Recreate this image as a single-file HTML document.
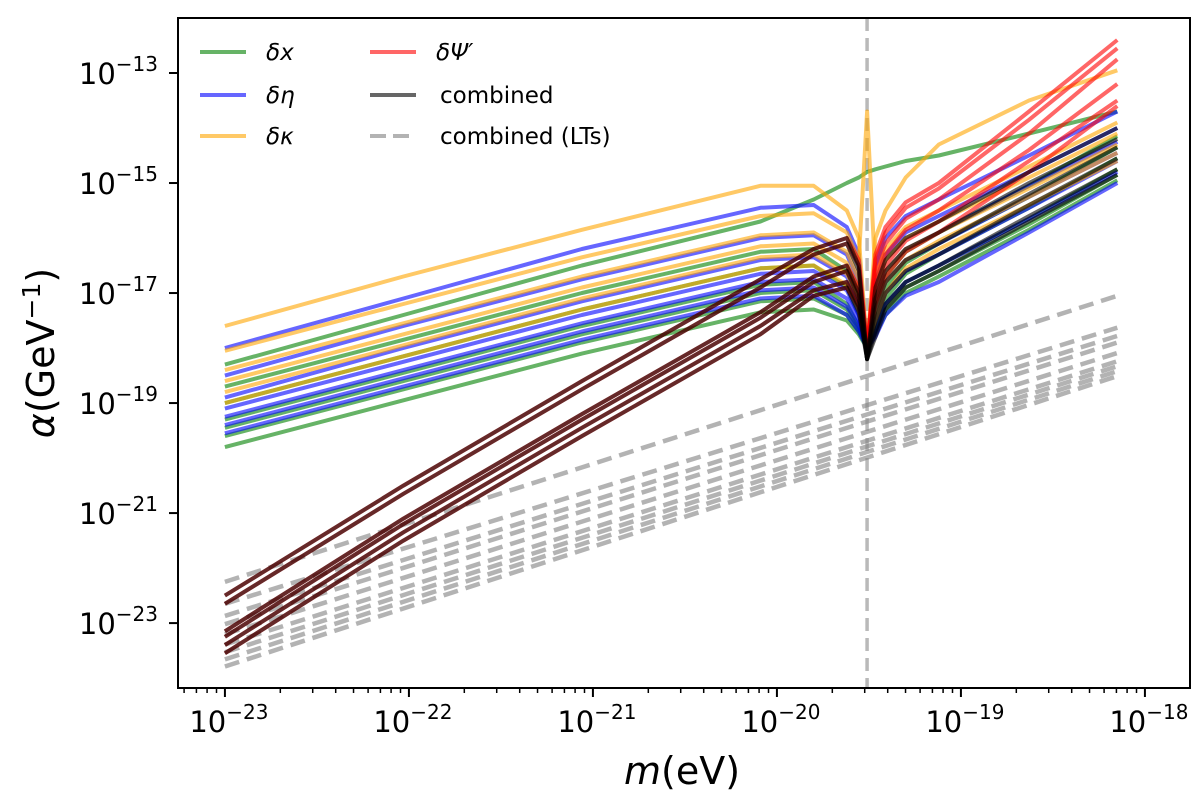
<!DOCTYPE html>
<html><head><meta charset="utf-8"><style>
body{margin:0;background:#fff;}
svg{display:block;font-family:"DejaVu Sans","Liberation Sans",sans-serif;}
</style></head><body>
<svg id="chart" width="1200" height="797" viewBox="0 0 1200 797" xmlns="http://www.w3.org/2000/svg">
<g id="plot"></g>
<g id="axes"></g>
<g id="legend"></g>
<text x="682" y="784" font-size="38" text-anchor="middle"><tspan font-style="italic">m</tspan>(eV)</text>
<text transform="translate(54,353) rotate(-90)" font-size="38" text-anchor="middle"><tspan font-style="italic">α</tspan>(GeV<tspan baseline-shift="super" font-size="25">−1</tspan>)</text>
</svg>
<script>
// data (log10 values)
const xsLog = [-23,-22.03,-21.06,-20.09,-19.80,-19.62,-19.555,-19.51,-19.465,-19.41,-19.3,-19.12,-18.63,-18.15];
const resonanceLog = -19.51;
const greenSeries = [
[-18.3,-17.4,-16.5,-15.7,-15.3,-15.0,-14.9,-14.8,-14.75,-14.7,-14.6,-14.5,-14.1,-13.7],
[-18.7,-17.85,-17.0,-16.25,-16.2,-16.6,-17.1,-18.0,-17.2,-16.7,-16.25,-15.9,-15.05,-14.15],
[-19.0,-18.15,-17.3,-16.55,-16.5,-16.9,-17.4,-18.0,-17.4,-16.9,-16.45,-16.1,-15.25,-14.35],
[-19.3,-18.45,-17.6,-16.85,-16.8,-17.2,-17.6,-18.0,-17.6,-17.1,-16.65,-16.3,-15.45,-14.55],
[-19.45,-18.6,-17.75,-17.0,-16.95,-17.3,-17.65,-18.0,-17.65,-17.2,-16.8,-16.5,-15.65,-14.75],
[-19.6,-18.75,-17.9,-17.15,-17.1,-17.4,-17.7,-18.0,-17.7,-17.3,-16.9,-16.6,-15.75,-14.85],
[-19.8,-18.95,-18.1,-17.35,-17.3,-17.5,-17.75,-18.0,-17.75,-17.4,-17.0,-16.7,-15.85,-14.95]];
const blueSeries = [
[-18.0,-17.1,-16.2,-15.45,-15.4,-15.8,-16.3,-18.0,-16.5,-16.0,-15.6,-15.3,-14.5,-13.7],
[-18.5,-17.6,-16.75,-16.0,-15.95,-16.3,-16.8,-18.0,-16.8,-16.3,-15.9,-15.6,-14.8,-14.0],
[-18.9,-18.0,-17.15,-16.4,-16.35,-16.7,-17.2,-18.0,-17.1,-16.6,-16.2,-15.9,-15.05,-14.25],
[-19.1,-18.25,-17.4,-16.65,-16.6,-16.95,-17.4,-18.0,-17.3,-16.8,-16.4,-16.1,-15.25,-14.45],
[-19.25,-18.4,-17.55,-16.8,-16.75,-17.1,-17.5,-18.0,-17.5,-17.0,-16.6,-16.3,-15.45,-14.6],
[-19.4,-18.55,-17.7,-16.95,-16.9,-17.25,-17.6,-18.0,-17.7,-17.2,-16.8,-16.5,-15.65,-14.8],
[-19.55,-18.7,-17.85,-17.1,-17.05,-17.4,-17.7,-18.0,-17.8,-17.4,-17.05,-16.8,-15.9,-15.0]];
const orangeSeries = [
[-17.6,-16.7,-15.85,-15.05,-15.05,-15.5,-16.0,-18.0,-16.0,-15.5,-14.9,-14.3,-13.5,-12.95],
[-18.05,-17.2,-16.35,-15.6,-15.55,-15.9,-16.4,-13.7,-16.7,-16.2,-15.8,-15.5,-14.7,-13.9],
[-18.4,-17.55,-16.7,-15.95,-15.9,-16.25,-16.75,-18.0,-16.9,-16.4,-16.0,-15.7,-14.9,-14.1],
[-18.6,-17.75,-16.9,-16.15,-16.1,-16.45,-16.95,-18.0,-17.1,-16.6,-16.2,-15.9,-15.1,-14.3],
[-18.8,-17.95,-17.1,-16.35,-16.3,-16.65,-17.1,-18.0,-17.3,-16.8,-16.4,-16.05,-15.25,-14.45],
[-19.0,-18.15,-17.3,-16.55,-16.5,-16.85,-17.3,-18.0,-17.5,-17.0,-16.55,-16.2,-15.4,-14.6]];
const redSeries = [
[-22.5,-20.5,-18.6,-16.75,-16.2,-16.0,-16.4,-18.0,-16.3,-15.8,-15.35,-15.0,-13.7,-12.4],
[-22.65,-20.65,-18.75,-16.9,-16.3,-16.1,-16.5,-18.0,-16.4,-15.9,-15.45,-15.1,-13.85,-12.55],
[-23.15,-21.1,-19.2,-17.35,-16.7,-16.5,-16.9,-18.0,-16.6,-16.1,-15.65,-15.3,-14.1,-12.75],
[-23.25,-21.2,-19.3,-17.45,-16.8,-16.6,-17.0,-18.0,-16.8,-16.3,-15.85,-15.5,-14.4,-13.2],
[-23.4,-21.35,-19.45,-17.6,-16.95,-16.8,-17.15,-18.0,-17.0,-16.5,-16.05,-15.7,-14.6,-13.5],
[-23.55,-21.5,-19.6,-17.75,-17.05,-16.9,-17.25,-18.0,-17.2,-16.7,-16.25,-15.9,-14.8,-13.6]];
const combinedSeries = [
[-22.5,-20.5,-18.6,-16.75,-16.2,-16.0,-16.5,-18.2,-16.9,-16.4,-16.0,-15.7,-14.8,-14.0],
[-23.15,-21.1,-19.2,-17.35,-16.7,-16.5,-17.0,-18.2,-17.1,-16.6,-16.2,-15.9,-15.0,-14.2],
[-23.25,-21.2,-19.3,-17.45,-16.8,-16.6,-17.1,-18.2,-17.3,-16.8,-16.4,-16.1,-15.2,-14.35],
[-23.4,-21.35,-19.45,-17.6,-16.95,-16.8,-17.25,-18.2,-17.5,-17.0,-16.6,-16.3,-15.4,-14.55],
[-23.55,-21.5,-19.6,-17.75,-17.05,-16.9,-17.35,-18.2,-17.7,-17.2,-16.8,-16.5,-15.6,-14.75],
[-22.65,-20.65,-18.75,-16.9,-16.3,-16.1,-16.6,-18.2,-17.8,-17.3,-16.9,-16.6,-15.7,-14.85]];
const ltsX = [-23,-18.15];
const ltsStart = [-22.25,-22.65,-22.87,-23.02,-23.2,-23.39,-23.53,-23.66,-23.79];
const ltsEnd = [-17.05,-17.63,-17.78,-17.9,-18.09,-18.24,-18.33,-18.42,-18.51];
const xTickLogs = [-23,-22,-21,-20,-19,-18];
const yTickLogs = [-13,-15,-17,-19,-21,-23];

const NS="http://www.w3.org/2000/svg";
const L=178,R=1190,T=18,B=688;
const xMin=-23.255,xMax=-17.755,yMax=-12.0,yMin=-24.18;
const xs=v=>L+(v-xMin)/(xMax-xMin)*(R-L);
const ys=v=>T+(yMax-v)/(yMax-yMin)*(B-T);
function mk(tag,parent){const e=document.createElementNS(NS,tag);parent.appendChild(e);return e;}
const plot=document.getElementById('plot');
const axes=document.getElementById('axes');
const legend=document.getElementById('legend');

const vl=mk('line',plot);


vl.setAttribute('x1',xs(resonanceLog));vl.setAttribute('x2',xs(resonanceLog));
vl.setAttribute('y1',T);vl.setAttribute('y2',B);
vl.setAttribute('stroke','rgba(128,128,128,0.55)');vl.setAttribute('stroke-width','3.5');vl.setAttribute('stroke-dasharray','13,7');

for(let i=0;i<ltsStart.length;i++){
 const l=mk('line',plot);
 
 
 l.setAttribute('x1',xs(ltsX[0]));l.setAttribute('y1',ys(ltsStart[i]));
 l.setAttribute('x2',xs(ltsX[1]));l.setAttribute('y2',ys(ltsEnd[i]));
 l.setAttribute('stroke','rgba(128,128,128,0.6)');l.setAttribute('stroke-width','4.5');l.setAttribute('stroke-dasharray','15,8');
}
function drawSet(set,color,name){
 set.forEach(arr=>{
  const p=mk('polyline',plot);
  
  
  p.setAttribute('points',arr.map((v,i)=>xs(xsLog[i]).toFixed(1)+','+ys(v).toFixed(1)).join(' '));
  p.setAttribute('fill','none');p.setAttribute('stroke',color);p.setAttribute('stroke-width','4');
  p.setAttribute('stroke-linejoin','round');
 });
}
drawSet(greenSeries,'rgba(0,128,0,0.6)','delta-x-line');
drawSet(blueSeries,'rgba(0,0,255,0.6)','delta-eta-line');
drawSet(orangeSeries,'rgba(255,165,0,0.6)','delta-kappa-line');
drawSet(redSeries,'rgba(255,0,0,0.6)','delta-psi-line');
drawSet(combinedSeries,'rgba(0,0,0,0.6)','combined-line');

const fr=mk('rect',axes);


fr.setAttribute('x',L);fr.setAttribute('y',T);fr.setAttribute('width',R-L);fr.setAttribute('height',B-T);
fr.setAttribute('fill','none');fr.setAttribute('stroke','#000');fr.setAttribute('stroke-width','2');
for(let d=-24;d<=-18;d++){
 for(let k=1;k<10;k++){
  const v=d+Math.log10(k); if(v<xMin||v>xMax) continue;
  const x=xs(v);const t=mk('line',axes);
  
  
  t.setAttribute('x1',x);t.setAttribute('x2',x);t.setAttribute('y1',B);t.setAttribute('y2',B+(k===1?9:5));
  t.setAttribute('stroke','#000');t.setAttribute('stroke-width',k===1?'2':'1.5');
 }
}
xTickLogs.forEach(v=>{
 const t=mk('text',axes);
 
 
 t.setAttribute('x',xs(v)+4);t.setAttribute('y',732);t.setAttribute('font-size','29');t.setAttribute('text-anchor','middle');
 t.innerHTML='10<tspan dy="-13" font-size="20">−'+(-v)+'</tspan>';
});
yTickLogs.forEach(v=>{
 const y=ys(v);const tk=mk('line',axes);
 
 
 tk.setAttribute('x1',L-9);tk.setAttribute('x2',L);tk.setAttribute('y1',y);tk.setAttribute('y2',y);
 tk.setAttribute('stroke','#000');tk.setAttribute('stroke-width','2');
 const t=mk('text',axes);
 
 
 t.setAttribute('x',158);t.setAttribute('y',y+11);t.setAttribute('font-size','29');t.setAttribute('text-anchor','end');
 t.innerHTML='10<tspan dy="-13" font-size="20">−'+(-v)+'</tspan>';
});
const entries=[
 [200,52,'rgba(0,128,0,0.6)','δx',false,true],
 [200,95,'rgba(0,0,255,0.6)','δη',false,true],
 [200,136,'rgba(255,165,0,0.6)','δκ',false,true],
 [370,52,'rgba(255,0,0,0.6)','δΨ′',false,true],
 [370,95,'rgba(0,0,0,0.6)','combined',false,false],
 [370,136,'rgba(128,128,128,0.6)','combined (LTs)',true,false]];
entries.forEach(e=>{
 const g=mk('g',legend);
 
 
 const l=mk('line',g);
 l.setAttribute('x1',e[0]);l.setAttribute('x2',e[0]+46);l.setAttribute('y1',e[1]);l.setAttribute('y2',e[1]);
 l.setAttribute('stroke',e[2]);l.setAttribute('stroke-width','4');
 if(e[4]) l.setAttribute('stroke-dasharray','16,7');
 const t=mk('text',g);
 t.setAttribute('x',e[0]+(e[5]?66:70));t.setAttribute('y',e[1]+8);t.setAttribute('font-size','23');
 if(e[5]) t.setAttribute('font-style','italic');
 t.textContent=e[3];
});
</script>
</body></html>
